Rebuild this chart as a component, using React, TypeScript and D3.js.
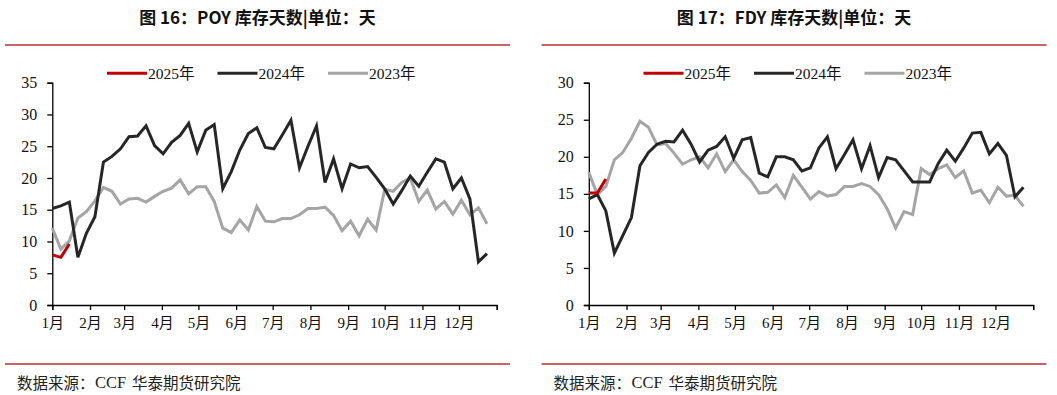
import { useEffect, useRef } from "react";
import * as d3 from "d3";

// weekly values, week 0 = first week of January
const poy2025 = [7.9, 7.5, 9.6];
const poy2024 = [
  15.2, 15.6, 16.2, 7.5, 11.3, 13.9, 22.5, 23.4, 24.6, 26.5, 26.6, 28.2, 25.1,
  23.8, 25.6, 26.7, 28.6, 24.1, 27.5, 28.4, 18.3, 21.0, 24.4, 27.0, 27.9, 24.8,
  24.6, 26.8, 29.1, 21.6, 25.0, 28.2, 19.3, 23.0, 18.3, 22.2, 21.6, 21.8, 20.1,
  18.3, 15.9, 18.0, 20.3, 18.7, 20.9, 23.0, 22.5, 18.3, 20.0, 16.7, 6.8, 8.1,
];
const poy2023 = [
  12.1, 8.8, 10.1, 13.7, 14.7, 16.4, 18.5, 17.9, 15.9, 16.7, 16.8, 16.2, 17.1,
  17.9, 18.4, 19.7, 17.5, 18.6, 18.6, 16.3, 12.1, 11.4, 13.4, 11.8, 15.5, 13.2,
  13.1, 13.6, 13.6, 14.2, 15.2, 15.2, 15.4, 14.1, 11.7, 13.2, 10.9, 13.5, 11.8,
  18.2, 17.9, 19.3, 20.0, 16.3, 18.1, 15.1, 16.3, 14.3, 16.5, 14.2, 15.3, 12.8,
];

const fdy2025 = [15.1, 15.1, 17.0];
const fdy2024 = [
  14.3, 14.9, 12.7, 7.0, 9.4, 11.8, 18.8, 20.6, 21.7, 22.1, 22.0, 23.6, 21.7,
  19.3, 20.9, 21.4, 22.7, 19.8, 22.3, 22.6, 17.8, 17.3, 20.0, 20.0, 19.6, 18.1,
  18.5, 21.2, 22.7, 18.4, 20.3, 22.3, 18.4, 21.5, 17.2, 19.9, 19.6, 18.1, 16.6,
  16.6, 16.6, 19.1, 20.9, 19.4, 21.2, 23.2, 23.3, 20.4, 21.8, 20.2, 14.6, 15.9,
];
const fdy2023 = [
  17.9, 14.9, 16.0, 19.6, 20.6, 22.5, 24.8, 24.0, 21.6, 21.8, 20.5, 19.0, 19.6,
  20.0, 18.5, 20.4, 18.0, 19.6, 18.0, 16.8, 15.1, 15.2, 16.2, 14.5, 17.5, 15.9,
  14.3, 15.3, 14.7, 14.9, 16.0, 16.0, 16.4, 16.0, 14.9, 13.0, 10.4, 12.6, 12.2,
  18.4, 17.6, 18.4, 18.9, 17.2, 18.1, 15.1, 15.5, 13.8, 15.9, 14.7, 14.8, 13.3,
];

const seriesNames = ["2025年", "2024年", "2023年"];
const seriesColors = ["#C00000", "#262626", "#A5A5A5"];
const monthLabels = ["1月", "2月", "3月", "4月", "5月", "6月", "7月", "8月", "9月", "10月", "11月", "12月"];
const footerParts = ["数据来源：", "CCF", "华泰期货研究院"];

const panels = [
  { title: "图 16：POY 库存天数|单位：天", yMax: 35, series: [poy2025, poy2024, poy2023] },
  { title: "图 17：FDY 库存天数|单位：天", yMax: 30, series: [fdy2025, fdy2024, fdy2023] },
];

const W = 1057;
const H = 395;
const PANEL_W = 536.5;
const serif = "'Liberation Serif', 'DejaVu Serif', 'Noto Sans CJK SC', serif";
const cjk = "'Noto Sans CJK SC', 'Liberation Sans', sans-serif";

export default function App() {
  const svgRef = useRef<SVGSVGElement>(null);

  useEffect(() => {
    if (!svgRef.current) return;
    const svg = d3.select(svgRef.current);
    svg.selectAll("*").remove();

    const start = new Date(2023, 0, 1);
    const end = new Date(2024, 0, 1);

    panels.forEach((p, pi) => {
      const g = svg.append("g").attr("transform", `translate(${pi * PANEL_W},0)`);

      const x = d3.scaleTime().domain([start, end]).range([52.3, 496.7]);
      const y = d3.scaleLinear().domain([0, p.yMax]).range([305, 82.7]);

      // title
      g.append("text")
        .attr("x", 257.5)
        .attr("y", 16)
        .attr("text-anchor", "middle")
        .attr("dominant-baseline", "central")
        .attr("font-family", cjk)
        .attr("font-weight", "bold")
        .attr("font-size", 17)
        .attr("fill", "#111")
        .style("white-space", "pre")
        .text(p.title);

      // red rules
      [45, 364].forEach((ry) => {
        g.append("line")
          .attr("x1", 5)
          .attr("x2", 510)
          .attr("y1", ry)
          .attr("y2", ry)
          .attr("stroke", "#C86464")
          .attr("stroke-width", 2);
      });

      // footer
      const footerX = [17, 95, 132];
      footerParts.forEach((t, i) => {
        g.append("text")
          .attr("x", footerX[i])
          .attr("y", 382)
          .attr("dominant-baseline", "central")
          .attr("font-family", i === 1 ? serif : cjk)
          .attr("font-size", i === 1 ? 16.5 : 15.5)
          .attr("fill", "#222")
          .text(t);
      });

      // y axis
      const yAxis = g.append("g")
        .attr("transform", `translate(${x(start)},0)`)
        .call(d3.axisLeft(y).tickValues(d3.range(0, p.yMax + 1, 5)).tickSize(5).tickPadding(10));
      yAxis.select(".domain").attr("stroke", "#000").attr("stroke-width", 1.3);
      yAxis.selectAll(".tick line").attr("stroke", "#000").attr("stroke-width", 1.3);
      yAxis.selectAll("text")
        .attr("font-family", serif)
        .attr("font-size", 16)
        .attr("fill", "#111");

      // x axis
      const monthTicks = d3.timeMonth.range(start, new Date(2024, 0, 2));
      const xAxis = g.append("g")
        .attr("transform", `translate(0,${y(0)})`)
        .call(
          d3.axisBottom(x)
            .tickValues(monthTicks)
            .tickSize(5)
            .tickPadding(7)
            .tickFormat((d, i) => monthLabels[i] ?? "")
        );
      xAxis.select(".domain").attr("stroke", "#000").attr("stroke-width", 1.3);
      xAxis.selectAll(".tick line").attr("stroke", "#000").attr("stroke-width", 1.3);
      xAxis.selectAll("text")
        .attr("font-family", serif)
        .attr("font-size", 15)
        .attr("fill", "#111");

      // lines, drawn oldest first so 2025 sits on top
      const line = d3.line<number>()
        .x((_, i) => x(d3.timeDay.offset(start, i * 7)))
        .y((d) => y(d));

      [2, 1, 0].forEach((si) => {
        g.append("path")
          .datum(p.series[si])
          .attr("d", line)
          .attr("fill", "none")
          .attr("stroke", seriesColors[si])
          .attr("stroke-width", 3)
          .attr("stroke-linejoin", "miter");
      });

      // legend
      const legend = g.append("g").attr("transform", "translate(107,73.3)");
      seriesNames.forEach((name, i) => {
        const lx = i * 110.5;
        legend.append("line")
          .attr("x1", lx)
          .attr("x2", lx + 40)
          .attr("stroke", seriesColors[i])
          .attr("stroke-width", 3);
        legend.append("text")
          .attr("x", lx + 41)
          .attr("dominant-baseline", "central")
          .attr("font-family", serif)
          .attr("font-size", 15.5)
          .attr("fill", "#111")
          .text(name);
      });
    });
  }, []);

  return (
    <svg
      ref={svgRef}
      width={W}
      height={H}
      style={{ position: "absolute", left: 0, top: 0, background: "#fff" }}
    />
  );
}
